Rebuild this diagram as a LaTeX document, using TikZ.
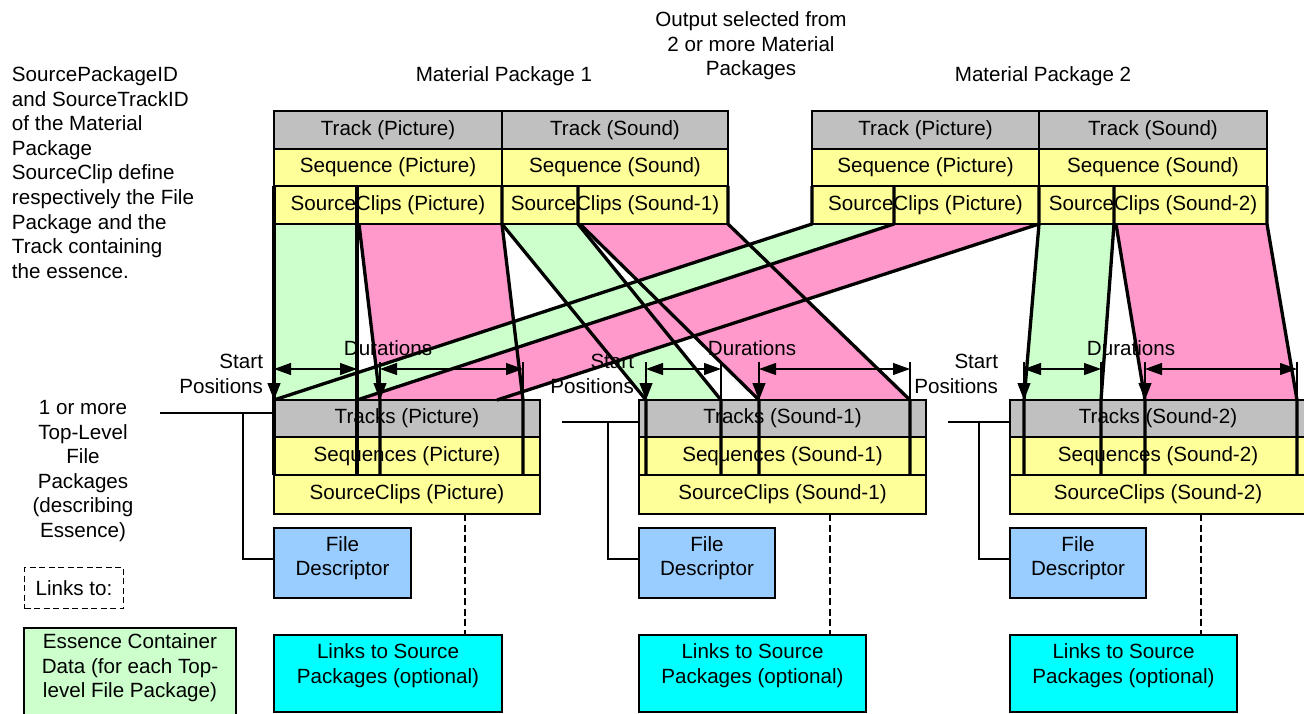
\documentclass[tikz,border=0pt]{standalone}
\usepackage{fontspec}
\setmainfont{Liberation Sans}
\usetikzlibrary{arrows.meta}
\definecolor{trkgray}{HTML}{C0C0C0}
\definecolor{seqyel}{HTML}{FFFF99}
\definecolor{bandgreen}{HTML}{CCFFCC}
\definecolor{bandpink}{HTML}{FF99CC}
\definecolor{descblue}{HTML}{99CCFF}
\definecolor{linkcyan}{HTML}{00FFFF}
\begin{document}
\begin{tikzpicture}[x=1pt,y=-1pt,
  font=\fontsize{20.6}{24.6}\selectfont,
  thinln/.style={line width=1.1pt},
  thickln/.style={line width=3.3pt, line join=round},
  cell/.style={draw, thinln, rectangle, inner sep=0pt, outer sep=0pt, anchor=north west},
  txt/.style={inner sep=0pt, outer sep=0pt, align=center},
  durarrow/.style={thinln, {Triangle[length=17pt,width=12pt]}-{Triangle[length=17pt,width=12pt]}},
  startarrow/.style={thinln, -{Triangle[length=17pt,width=13pt]}},
  tick/.style={thinln},
  linkline/.style={thinln, dash pattern=on 7pt off 3.5pt},
]
\useasboundingbox (0,0) rectangle (1304,713);
\clip (0,0) rectangle (1304,713);

% ---------- bands (fills) ----------
% Material Package 1, picture
\fill[bandgreen] (274,224) -- (357,224) -- (357,400) -- (274,400) -- cycle;
\fill[bandpink] (359,224) -- (502,224) -- (523,400) -- (380,400) -- cycle;
% Material Package 1, sound
\fill[bandgreen] (502,224) -- (578,224) -- (721,400) -- (646,400) -- cycle;
\fill[bandpink] (580,224) -- (728,224) -- (910,400) -- (759,400) -- cycle;
% Material Package 2, picture
\fill[bandgreen] (812,224) -- (894,224) -- (357,400) -- (274,400) -- cycle;
\fill[bandpink] (894,224) -- (1039,224) -- (497,400) -- (357,400) -- cycle;
% Material Package 2, sound
\fill[bandgreen] (1039,224) -- (1114,224) -- (1101,400) -- (1024,400) -- cycle;
\fill[bandpink] (1116,224) -- (1267,224) -- (1297,400) -- (1145,400) -- cycle;

% ---------- Material Package boxes ----------
\node[cell, fill=trkgray, minimum width=228, minimum height=38] (mp1tp) at (274,111) {Track (Picture)};
\node[cell, fill=trkgray, minimum width=226, minimum height=38] (mp1ts) at (502,111) {Track (Sound)};
\node[cell, fill=seqyel, minimum width=228, minimum height=37] (mp1sp) at (274,149) {Sequence (Picture)};
\node[cell, fill=seqyel, minimum width=226, minimum height=37] (mp1ss) at (502,149) {Sequence (Sound)};
\node[cell, fill=seqyel, minimum width=228, minimum height=38] (mp1cp) at (274,186) {SourceClips (Picture)};
\node[cell, fill=seqyel, minimum width=226, minimum height=38] (mp1cs) at (502,186) {SourceClips (Sound-1)};

\node[cell, fill=trkgray, minimum width=227, minimum height=38] (mp2tp) at (812,111) {Track (Picture)};
\node[cell, fill=trkgray, minimum width=228, minimum height=38] (mp2ts) at (1039,111) {Track (Sound)};
\node[cell, fill=seqyel, minimum width=227, minimum height=37] (mp2sp) at (812,149) {Sequence (Picture)};
\node[cell, fill=seqyel, minimum width=228, minimum height=37] (mp2ss) at (1039,149) {Sequence (Sound)};
\node[cell, fill=seqyel, minimum width=227, minimum height=38] (mp2cp) at (812,186) {SourceClips (Picture)};
\node[cell, fill=seqyel, minimum width=228, minimum height=38] (mp2cs) at (1039,186) {SourceClips (Sound-2)};

% ---------- File Package boxes ----------
\node[cell, fill=trkgray, minimum width=266, minimum height=37] (fptp) at (274,400) {Tracks (Picture)};
\node[cell, fill=seqyel, minimum width=266, minimum height=38] (fpsp) at (274,437) {Sequences (Picture)};
\node[cell, fill=seqyel, minimum width=266, minimum height=39] (fpcp) at (274,475) {SourceClips (Picture)};

\node[cell, fill=trkgray, minimum width=287, minimum height=37] (fpt1) at (639,400) {Tracks (Sound-1)};
\node[cell, fill=seqyel, minimum width=287, minimum height=38] (fps1) at (639,437) {Sequences (Sound-1)};
\node[cell, fill=seqyel, minimum width=287, minimum height=39] (fpc1) at (639,475) {SourceClips (Sound-1)};

\node[cell, fill=trkgray, minimum width=296, minimum height=37] (fpt2) at (1010,400) {Tracks (Sound-2)};
\node[cell, fill=seqyel, minimum width=296, minimum height=38] (fps2) at (1010,437) {Sequences (Sound-2)};
\node[cell, fill=seqyel, minimum width=296, minimum height=39] (fpc2) at (1010,475) {SourceClips (Sound-2)};

% File descriptors
\node[cell, fill=descblue, minimum width=137, minimum height=70] (fdp) at (274,528) {};
\node[txt, yshift=5pt] (fdpt) at (fdp.center) {File\\Descriptor};
\node[cell, fill=descblue, minimum width=136, minimum height=70] (fd1) at (639,528) {};
\node[txt, yshift=5pt] (fd1t) at (fd1.center) {File\\Descriptor};
\node[cell, fill=descblue, minimum width=136, minimum height=70] (fd2) at (1010,528) {};
\node[txt, yshift=5pt] (fd2t) at (fd2.center) {File\\Descriptor};

% Links to source packages
\node[cell, fill=linkcyan, minimum width=228, minimum height=77] (lkp) at (274,635) {};
\node[txt, yshift=8pt] (lkpt) at (lkp.center) {Links to Source\\Packages (optional)};
\node[cell, fill=linkcyan, minimum width=227, minimum height=77] (lk1) at (639,635) {};
\node[txt, yshift=8pt] (lk1t) at (lk1.center) {Links to Source\\Packages (optional)};
\node[cell, fill=linkcyan, minimum width=227, minimum height=77] (lk2) at (1010,635) {};
\node[txt, yshift=8pt] (lk2t) at (lk2.center) {Links to Source\\Packages (optional)};

% dashed links
\coordinate (dp1) at (465,514); \coordinate (dp2) at (465,635);
\coordinate (d11) at (830,514); \coordinate (d12) at (830,635);
\coordinate (d21) at (1201,514); \coordinate (d22) at (1201,635);
\draw[linkline] (dp1) -- (dp2);
\draw[linkline] (d11) -- (d12);
\draw[linkline] (d21) -- (d22);

% ---------- left side legend ----------
\node[txt, align=left, anchor=north west] (note) at (12,66.5) {SourcePackageID\\and SourceTrackID\\of the Material\\Package\\SourceClip define\\respectively the File\\Package and the\\Track containing\\the essence.};
\node[txt] (toplvl) at (83,471) {1 or more\\Top-Level\\File\\Packages\\(describing\\Essence)};
\node[draw, thinln, dash pattern=on 6pt off 3.5pt, rectangle, inner sep=0pt, anchor=north west, minimum width=99, minimum height=41] (lkleg) at (24,567) {};
\node[txt] (lklegt) at (lkleg.center) {Links to:};
\node[cell, fill=bandgreen, minimum width=212, minimum height=90] (ecd) at (24,628) {};
\node[txt, yshift=5pt] (ecdt) at (ecd.center) {Essence Container\\Data (for each Top-\\level File Package)};

% connectors from legend text to file packages
\coordinate (cp0) at (160,413); \coordinate (cpv) at (243,413); \coordinate (cpe) at (274,413);
\coordinate (cpd) at (274,559);
\draw[thinln] (cp0) -- (cpe);
\draw[thinln] (cpv) |- (cpd);
\coordinate (c10) at (562,422); \coordinate (c1v) at (608,422); \coordinate (c1e) at (639,422);
\coordinate (c1d) at (639,559);
\draw[thinln] (c10) -- (c1e);
\draw[thinln] (c1v) |- (c1d);
\coordinate (c20) at (948,422); \coordinate (c2v) at (979,422); \coordinate (c2e) at (1010,422);
\coordinate (c2d) at (1010,559);
\draw[thinln] (c20) -- (c2e);
\draw[thinln] (c2v) |- (c2d);

% ---------- titles ----------
\node[txt] (mp1title) at (504,76) {Material Package 1};
\node[txt] (mp2title) at (1043,76) {Material Package 2};
\node[txt] (outsel) at (751,46) {Output selected from\\2 or more Material\\Packages};

% ---------- start / duration labels ----------
\node[txt, anchor=east, align=right] (spp) at (263,374) {Start\\Positions};
\node[txt, anchor=east, align=right] (sp1) at (634,374) {Start\\Positions};
\node[txt, anchor=east, align=right] (sp2) at (998,374) {Start\\Positions};
\node[txt] (dup) at (388,348) {Durations};
\node[txt] (du1) at (752,348) {Durations};
\node[txt] (du2) at (1131,348) {Durations};

% ---------- thick clip / band edges ----------
\draw[line width=2.6pt] (274,224) -- (728,224);
\draw[line width=2.6pt] (812,224) -- (1267,224);
% MP1
\draw[thickln] (274,186) -- (274,475);
\draw[thickln] (357,186) -- (357,475);
\draw[thickln] (359,224) -- (380,400) -- (380,475);
\draw[thickln] (502,186) -- (502,224) -- (523,400) -- (523,475);
\draw[thickln] (502,224) -- (646,400) -- (646,475);
\draw[thickln] (578,186) -- (578,224) -- (721,400) -- (721,475);
\draw[thickln] (580,224) -- (759,400) -- (759,475);
\draw[thickln] (728,186) -- (728,224) -- (910,400) -- (910,475);
% MP2
\draw[thickln] (812,186) -- (812,224) -- (274,400);
\draw[thickln] (894,186) -- (894,224) -- (357,400);
\draw[thickln] (1039,186) -- (1039,224) -- (497,400);
\draw[thickln] (1039,224) -- (1024,400) -- (1024,475);
\draw[thickln] (1114,186) -- (1114,224) -- (1101,400) -- (1101,475);
\draw[thickln] (1116,224) -- (1145,400) -- (1145,475);
\draw[thickln] (1267,186) -- (1267,224) -- (1297,400) -- (1297,475);

% ---------- start arrows, ticks, duration arrows ----------
\foreach \sx in {274,380,646,759,1024,1145} {
  \draw[startarrow] (\sx,362) -- (\sx,400);
}
\foreach \ex in {523,721,910,1101,1297} {
  \draw[tick] (\ex,362) -- (\ex,400);
}
\draw[durarrow] (274,369) -- (357,369);
\draw[durarrow] (380,369) -- (523,369);
\draw[durarrow] (646,369) -- (721,369);
\draw[durarrow] (759,369) -- (910,369);
\draw[durarrow] (1024,369) -- (1101,369);
\draw[durarrow] (1145,369) -- (1297,369);
\end{tikzpicture}
\end{document}
